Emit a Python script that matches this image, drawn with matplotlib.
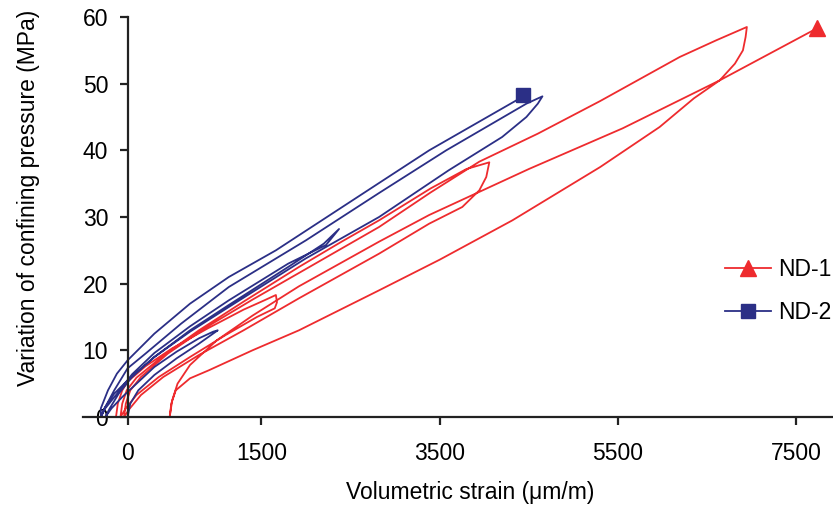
import matplotlib
matplotlib.use("Agg")
import matplotlib.pyplot as plt
from matplotlib.lines import Line2D

plt.rcParams['font.family'] = ['Liberation Sans', 'DejaVu Sans']

# ND-1 (red): loading / unloading branches, (volumetric strain, pressure)
nd1_load1 = [(-130, 0), (-110, 2), (-60, 4), (0, 5.3), (200, 7.6), (500, 10.3),
             (900, 13.3), (1300, 16.1), (1550, 17.6), (1663, 18.3)]
nd1_unload1 = [(1675, 17.2), (1650, 16.3), (1450, 15.0), (1100, 12.3), (700, 9.0),
               (350, 6.0), (100, 3.3), (-20, 1.3), (-80, 0)]
nd1_load2 = [(-60, 2), (-10, 4), (100, 5.9), (400, 9.2), (800, 13.0), (1300, 17.3),
             (1921, 22.5), (2400, 26.3), (2820, 29.5), (3400, 34.3), (3800, 37.2), (4056, 38.2)]
nd1_unload2 = [(4022, 36.0), (3944, 34.0), (3753, 31.5), (3382, 29.0), (2820, 24.5),
               (1921, 17.8), (1300, 13.0), (800, 9.3), (400, 6.0), (150, 3.3), (20, 1.2), (-40, 0)]
nd1_load3 = [(-20, 2), (30, 4), (150, 6), (450, 9.5), (900, 13.6), (1400, 17.6),
             (1921, 21.6), (2820, 28.5), (3400, 33.7), (3944, 38.3), (4600, 42.5),
             (5300, 47.4), (6191, 54.0), (6600, 56.5), (6944, 58.5)]
nd1_unload3 = [(6930, 57.0), (6900, 55.0), (6810, 53.0), (6640, 50.5), (6350, 47.8),
               (5966, 43.5), (5300, 37.5), (4315, 29.5), (3500, 23.6), (2820, 19.0),
               (1921, 13.0), (1400, 10.0), (910, 7.0), (700, 5.8), (540, 4.0), (490, 2.0), (472, 0)]
nd1_final = [(500, 2.5), (560, 5.0), (700, 7.8), (1000, 11.5), (1400, 15.2), (1921, 19.6),
             (2820, 26.3), (3382, 30.3), (4500, 37.2), (5551, 43.3), (6640, 50.5), (7730, 58.3)]

# ND-2 (blue)
nd2_load1 = [(0, 0), (30, 2), (120, 4), (300, 6.3), (550, 8.8), (800, 11.0), (1011, 13.0)]
nd2_unload1 = [(960, 12.8), (800, 11.8), (550, 9.8), (300, 7.5), (100, 5.0), (-60, 3.0),
               (-180, 1.3), (-250, 0)]
nd2_load2 = [(-200, 1.3), (-100, 3.5), (50, 6.0), (300, 9.0), (700, 13.0), (1135, 16.8),
             (1800, 22.5), (2200, 26.0), (2371, 28.2)]
nd2_unload2 = [(2225, 25.8), (1800, 23.0), (1135, 17.5), (700, 13.6), (300, 9.6), (50, 6.4),
               (-100, 3.8), (-250, 1.3), (-300, 0)]
nd2_load3 = [(-260, 1.3), (-150, 3.5), (0, 5.5), (300, 9.0), (700, 12.8), (1135, 16.5),
             (2000, 23.8), (2820, 30.0), (3600, 37.0), (4200, 42.0), (4472, 45.0),
             (4600, 47.0), (4652, 48.1)]
nd2_unload3 = [(4472, 47.0), (3573, 40.0), (2820, 33.6), (2000, 26.5), (1135, 19.5),
               (600, 14.0), (200, 9.5), (0, 7.3), (-150, 4.0), (-250, 1.5), (-300, 0)]
nd2_final = [(-300, 1.3), (-220, 4.0), (-120, 6.5), (0, 8.5), (300, 12.5), (700, 17.0),
             (1135, 21.0), (1663, 25.0), (2820, 35.1), (3382, 40.0), (4360, 47.5), (4438, 48.3)]

x_ticks = [0, 1500, 3500, 5500, 7500]
y_ticks = [0, 10, 20, 30, 40, 50, 60]

RED = '#EE2B2E'
BLUE = '#2B2F86'


def join(*branches):
    pts = [p for b in branches for p in b]
    return [p[0] for p in pts], [p[1] for p in pts]


fig = plt.figure(figsize=(8.33, 5.2), dpi=100)
ax = fig.add_axes([83 / 833, 1 - 417 / 520, 750 / 833, 400 / 520])

x1, y1 = join(nd1_load1, nd1_unload1, nd1_load2, nd1_unload2, nd1_load3, nd1_unload3, nd1_final)
x2, y2 = join(nd2_load1, nd2_unload1, nd2_load2, nd2_unload2, nd2_load3, nd2_unload3, nd2_final)

ax.plot(x1, y1, color=RED, lw=1.3, marker='^', markevery=[len(x1) - 1], ms=11, clip_on=False)
ax.plot(x2, y2, color=BLUE, lw=1.3, marker='s', markevery=[len(x2) - 1], ms=10, clip_on=False)

ax.set_xlim(-500, 7910)
ax.set_ylim(0, 60)
ax.spines['left'].set_position(('data', 0))
ax.spines['top'].set_visible(False)
ax.spines['right'].set_visible(False)
for s in ('left', 'bottom'):
    ax.spines[s].set_linewidth(1.6)
    ax.spines[s].set_color('#222222')

ax.set_xticks(x_ticks)
ax.set_yticks(y_ticks)
ax.tick_params(axis='x', direction='out', length=6, width=1.6, color='#222222', labelsize=16.5, pad=12)
ax.tick_params(axis='y', direction='out', length=6, width=1.6, color='#222222', labelsize=16.5, pad=8)

fig.text(0.564, 0.052, 'Volumetric strain (μm/m)', ha='center', va='center', fontsize=16.5)
fig.text(0.034, 1 - 198 / 520, 'Variation of confining pressure (MPa)', ha='center', va='center',
         rotation=90, fontsize=16.5)

handles = [Line2D([0], [0], color=RED, lw=1.3, marker='^', ms=11),
           Line2D([0], [0], color=BLUE, lw=1.3, marker='s', ms=10)]
ax.legend(handles, ['ND-1', 'ND-2'], loc='center left', bbox_to_anchor=(725 / 833, 1 - 291 / 520),
          bbox_transform=fig.transFigure, frameon=False, fontsize=16.5, borderpad=0,
          borderaxespad=0, handlelength=2.0, handletextpad=0.3, labelspacing=0.85)

fig.savefig('out.png', dpi=100)
